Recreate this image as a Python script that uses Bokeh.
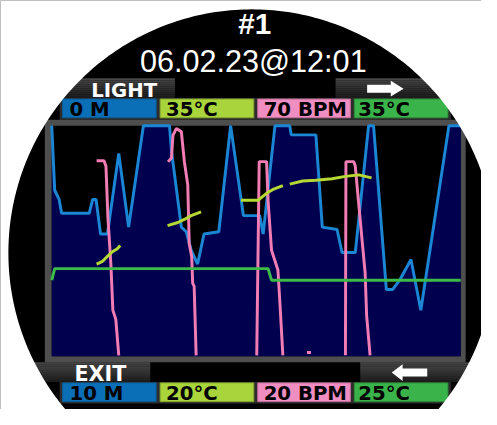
import numpy as np
from bokeh.plotting import figure
from bokeh.models import Range1d
from bokeh.core.properties import value
from bokeh.embed import file_html
from bokeh.resources import INLINE

# ---------------- data ----------------
dive_no = "#1"
dive_stamp = "06.02.23@12:01"
top_button = "LIGHT"
bottom_button = "EXIT"
scale_top_labels = ["0 M", "35°C", "70 BPM", "35°C"]
scale_bottom_labels = ["10 M", "20°C", "20 BPM", "25°C"]

time_span = (0.0, 83.0)        # minutes shown across the chart
depth_span = (0.0, 10.0)       # m, top -> bottom
temp_span = (35.0, 20.0)       # degC, top -> bottom (yellow-green)
hr_span = (70.0, 20.0)         # BPM, top -> bottom
temp2_span = (35.0, 25.0)      # degC, top -> bottom (green)

nan = float("nan")

depth_t = [0, 0.3, 0.6, 1.5, 2.0, 7.6, 8.3, 9.0, 9.9, 11.3, 13.6, 15.6, 18.6, 23.9, 24.3,
           26.3, 27.3, 28.3, 29.6, 30.9, 33.9, 36.3, 38.9, 42.2, 42.9, 45.3, 48.3, 48.6,
           53.6, 54.9, 57.9, 58.9, 61.6, 64.3, 65.3, 67.9, 69.2, 70.6, 72.9, 74.9, 80.6, 83.0]
depth_m = [0, 1.4, 2.8, 3.2, 3.8, 3.8, 3.2, 3.2, 4.7, 4.7, 1.2, 4.4, 0, 0, 1.1,
           4.4, 4.6, 5.4, 6.0, 4.7, 4.6, 0, 3.9, 3.9, 4.7, 0, 0, 0.4,
           0.4, 4.4, 4.5, 5.5, 5.5, 0, 0, 7.1, 7.1, 6.7, 5.8, 8.0, 0, 0]

hr_t = [9.1, 10.6, 11.0, 11.4, 12.0, 12.4, 13.0, 13.6, nan,
        23.6, 24.3, 24.6, 25.3, 26.3, 26.9, 27.6, 27.9, 28.4, 28.6, 28.9, 29.3, nan,
        41.6, 42.1, 43.6, 43.9, 44.6, 45.9, 46.3, 46.9, nan,
        51.8, 52.6, nan,
        59.6, 59.7, 61.3, 61.6, 62.3, 63.6, 63.9, 64.6]
hr_bpm = [62.4, 62.4, 61.2, 50.0, 40.0, 30.0, 28.0, 20.2, nan,
          62.2, 63.0, 67.9, 69.4, 68.7, 62.3, 57.2, 44.4, 41.6, 35.8, 35.2, 20.2, nan,
          20.2, 62.2, 62.2, 53.7, 43.0, 38.7, 31.6, 20.2, nan,
          20.8, 20.8, nan,
          20.2, 62.2, 62.2, 61.2, 53.0, 38.0, 28.8, 20.2]

temp_t = [9.1, 10.2, 11.3, 12.3, 13.3, 13.9, nan,
          23.5, 25.6, 26.9, 28.3, 30.3, nan,
          38.4, 41.9, 43.6, 44.9, 46.9, nan,
          48.3, 50.9, 53.6, 56.9, 59.6, 62.3, 64.9]
temp_c = [26.0, 26.15, 26.5, 26.8, 27.0, 27.2, nan,
          28.5, 28.7, 28.9, 29.15, 29.4, nan,
          30.15, 30.15, 30.6, 30.85, 31.1, nan,
          31.2, 31.4, 31.45, 31.55, 31.7, 31.8, 31.6]

temp2_t = [0, 0.6, 43.9, 44.6, 83.0]
temp2_c = [28.3, 28.8, 28.8, 28.3, 28.3]

# ---------------- layout (reference pixel units) ----------------
W, H = 481, 409
VIEW_H = 415.0                # reference rows shown, so the lowest labels fit
S = H / VIEW_H                # screen px per reference unit
X0, X1 = 0, W / S
Y0, Y1 = 0, VIEW_H
CX, CY, R = 255, 256, 247     # round display

FRAME = (45, 472, 121, 367)   # grey chart border
INNER = (52, 467, 127, 361)   # chart area

NAVY = "#00004f"
C_BLUE_LINE = "#1b86d4"
C_PINK_LINE = "#f27db5"
C_YEL_LINE = "#b6d835"
C_GRN_LINE = "#3dba48"
BOX_FILL = ["#0b6fb8", "#a9d43b", "#f08dc1", "#3ab44a"]
BOX_EDGE = ["#0a5a94", "#86a82c", "#c06e9a", "#2d8e3a"]
BOX_X = [(63, 158), (162, 257), (261, 355), (359, 454)]
BOX_TEXT_X = [70, 168, 267, 363]


def fs(px):
    return value("%.1fpx" % (px * S))


def base(cap_bottom, px):
    # compensate the renderer's baseline offset (~0.31 em)
    return cap_bottom - 0.31 * px


def data_range(v_a, v_b, px_a, px_b, lo_px, hi_px):
    k = (v_b - v_a) / (px_b - px_a)
    return Range1d(start=v_a + (lo_px - px_a) * k, end=v_a + (hi_px - px_a) * k)


p = figure(width=W, height=H, output_backend="svg", toolbar_location=None,
           x_range=Range1d(X0, X1), y_range=Range1d(Y1, Y0),
           x_axis_type=None, y_axis_type=None, min_border=0,
           background_fill_color="white", border_fill_color="white")
p.outline_line_color = None
p.grid.visible = False

ix0, ix1, iy0, iy1 = INNER
p.extra_x_ranges = {"time": data_range(time_span[0], time_span[1], ix0, ix1, X0, X1)}
p.extra_y_ranges = {
    "depth": data_range(depth_span[0], depth_span[1], iy0, iy1, Y1, Y0),
    "temp": data_range(temp_span[0], temp_span[1], iy0, iy1, Y1, Y0),
    "hr": data_range(hr_span[0], hr_span[1], iy0, iy1, Y1, Y0),
    "temp2": data_range(temp2_span[0], temp2_span[1], iy0, iy1, Y1, Y0),
}

# black display
p.quad(left=[-20], right=[520], top=[-20], bottom=[450], fill_color="black", line_color=None)


def grad_bar(x0, x1, y0, y1, c_top=(70, 70, 70), c_bot=(28, 28, 28), n=10):
    ys = np.linspace(y0, y1, n + 1)
    cols = []
    for i in range(n):
        f = i / (n - 1)
        c = tuple(int(round(a + (b - a) * f)) for a, b in zip(c_top, c_bot))
        cols.append("#%02x%02x%02x" % c)
    p.quad(left=[x0] * n, right=[x1] * n, top=list(ys[:-1]), bottom=list(ys[1:]),
           fill_color=cols, line_color=None)


# button bars
grad_bar(30, 177, 79, 99)
grad_bar(340, 480, 79, 99)
grad_bar(30, 152, 367, 387)
grad_bar(365, 480, 367, 387)

# scale boxes
for (yt, yb) in [(99, 121), (387, 409)]:
    p.quad(left=[60], right=[457], top=[yt], bottom=[yb], fill_color="#2c2c2c", line_color=None)
for (yt, yb, labels, cap_b) in [(100, 119, scale_top_labels, 117),
                                (388, 407, scale_bottom_labels, 405)]:
    p.quad(left=[b[0] for b in BOX_X], right=[b[1] for b in BOX_X],
           top=[yt] * 4, bottom=[yb] * 4, fill_color=BOX_FILL, line_color=BOX_EDGE, line_width=1)
    p.text(x=BOX_TEXT_X, y=[base(cap_b, 20)] * 4, text=labels, text_color="black",
           text_font=value("DejaVu Sans"), text_font_style="bold",
           text_font_size=fs(20), text_baseline="alphabetic", text_align="left")

# arrows
p.patch(x=[372, 396, 396, 409, 396, 396, 372], y=[85.5, 85.5, 81.5, 89.5, 97.5, 93.5, 93.5],
        fill_color="white", line_color=None)
p.patch(x=[433, 408, 408, 397, 408, 408, 433], y=[373.5, 373.5, 369, 377.5, 386, 381.5, 381.5],
        fill_color="white", line_color=None)

# chart frame
fx0, fx1, fy0, fy1 = FRAME
p.quad(left=[fx0], right=[fx1], top=[fy0], bottom=[fy1], fill_color="#4e4e4e", line_color=None)
p.quad(left=[ix0], right=[ix1], top=[iy0], bottom=[iy1], fill_color="black", line_color=None)

# depth profile: navy below the line
p.varea(x=depth_t, y1=depth_m, y2=[depth_span[1]] * len(depth_t), fill_color=NAVY,
        x_range_name="time", y_range_name="depth")
LW = 3 * S
p.line(depth_t, depth_m, line_color=C_BLUE_LINE, line_width=LW,
       x_range_name="time", y_range_name="depth")
p.line(hr_t, hr_bpm, line_color=C_PINK_LINE, line_width=LW,
       x_range_name="time", y_range_name="hr")
p.line(temp_t, temp_c, line_color=C_YEL_LINE, line_width=LW,
       x_range_name="time", y_range_name="temp")
p.line(temp2_t, temp2_c, line_color=C_GRN_LINE, line_width=LW,
       x_range_name="time", y_range_name="temp2")

# header texts
p.text(x=[258], y=[base(33, 30)], text=[dive_no], text_color="white",
       text_font=value("Liberation Sans"), text_font_style="bold",
       text_font_size=fs(30), text_align="center", text_baseline="alphabetic")
p.text(x=[256.5], y=[base(71.5, 31)], text=[dive_stamp], text_color="white",
       text_font=value("Liberation Sans"),
       text_font_size=fs(31), text_align="center", text_baseline="alphabetic")
p.text(x=[92], y=[base(98, 20)], text=[top_button], text_color="white",
       text_font=value("DejaVu Sans"), text_font_style="bold",
       text_font_size=fs(20), text_align="left", text_baseline="alphabetic")
p.text(x=[75], y=[base(385, 21)], text=[bottom_button], text_color="white",
       text_font=value("DejaVu Sans"), text_font_style="bold",
       text_font_size=fs(21), text_align="left", text_baseline="alphabetic")

# white mask outside the round display
ang = np.linspace(0, 2 * np.pi, 361)
hole_x = list(CX + R * np.cos(ang))
hole_y = list(CY + R * np.sin(ang))
p.multi_polygons(xs=[[[[-50, 550, 550, -50], hole_x]]],
                 ys=[[[[-50, -50, 480, 480], hole_y]]],
                 fill_color="white", line_color=None)

open("out.html", "w").write(file_html(p, INLINE))
